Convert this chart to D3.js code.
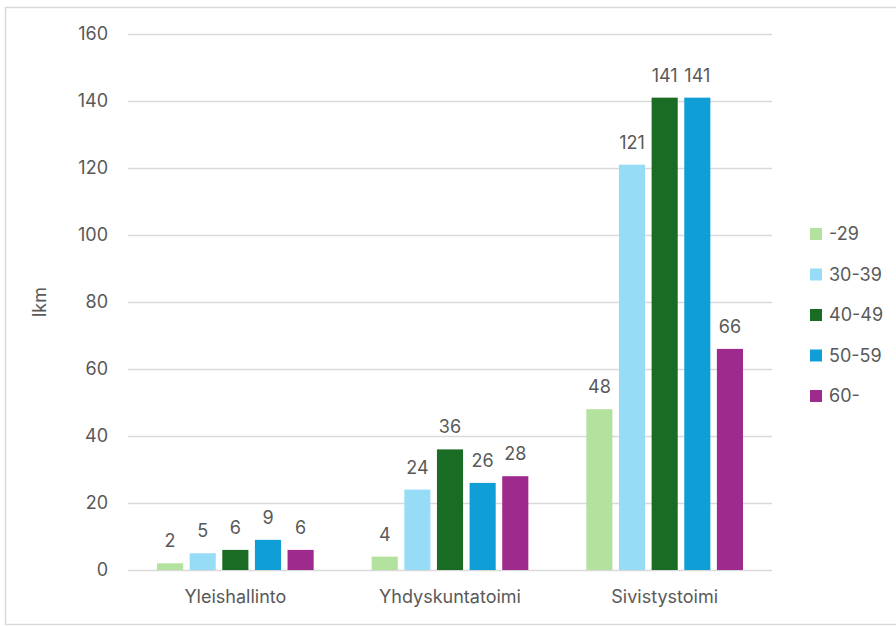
<!DOCTYPE html>
<html><head><meta charset="utf-8">
<script src="https://cdn.jsdelivr.net/npm/d3@7"></script>
<style>body{margin:0;background:#fff}svg{display:block}</style>
</head><body>
<script>
const categories = ["Yleishallinto", "Yhdyskuntatoimi", "Sivistystoimi"];
const seriesNames = ["-29", "30-39", "40-49", "50-59", "60-"];
const s_29 = [2, 4, 48];
const s30_39 = [5, 24, 121];
const s40_49 = [6, 36, 141];
const s50_59 = [9, 26, 141];
const s60 = [6, 28, 66];
const seriesValues = [s_29, s30_39, s40_49, s50_59, s60];
const yTicks = [0, 20, 40, 60, 80, 100, 120, 140, 160];
const colors = ["#b3e29e", "#97dcf6", "#1a6b24", "#109ed6", "#9e2a8e"];

const W = 896, H = 626;
const font = "Inter, sans-serif";
const fs = "18px";
const txt = "#595959";
const svg = d3.select("body").append("svg").attr("width", W).attr("height", H);
svg.append("rect").attr("x", 5.5).attr("y", 7.5).attr("width", 900).attr("height", 617)
  .attr("fill", "#fff").attr("stroke", "#d9d9d9").attr("stroke-width", 1.5);

const pL = 128, pR = 772, pT = 34, pB = 570;
const x = d3.scaleBand().domain(categories).range([pL, pR]).paddingInner(0).paddingOuter(0);
const y = d3.scaleLinear().domain([0, 160]).range([pB, pT]);
const xs = d3.scaleBand().domain(seriesNames).range([29, x.bandwidth() - 29]).paddingInner(0.2).paddingOuter(0);

// gridlines
const yAxis = d3.axisLeft(y).tickValues(yTicks).tickSize(-(pR - pL)).tickFormat(d3.format("d")).tickPadding(20);
const ga = svg.append("g").attr("transform", `translate(${pL},0)`).call(yAxis);
ga.select(".domain").remove();
ga.selectAll(".tick line").attr("stroke", "#d9d9d9").attr("stroke-width", 1.5);
ga.selectAll(".tick text").attr("fill", txt).style("font-family", font).style("font-size", fs);

// bars
const groups = svg.append("g").selectAll("g").data(categories).join("g")
  .attr("transform", d => `translate(${x(d)},0)`);
seriesNames.forEach((s, si) => {
  categories.forEach((c, ci) => {
    const v = seriesValues[si][ci];
    const g = groups.filter(d => d === c);
    g.append("rect").attr("x", xs(s)).attr("y", y(v)).attr("width", xs.bandwidth())
      .attr("height", y(0) - y(v)).attr("fill", colors[si]);
    g.append("text").attr("x", xs(s) + xs.bandwidth() / 2).attr("y", y(v) - 16)
      .attr("text-anchor", "middle").attr("fill", txt).style("font-family", font).style("font-size", fs)
      .text(v);
  });
});

// x axis labels
const xAxis = d3.axisBottom(x).tickSize(0).tickPadding(20);
const gx = svg.append("g").attr("transform", `translate(0,${pB})`).call(xAxis);
gx.select(".domain").remove();
gx.selectAll(".tick text").attr("fill", txt).style("font-family", font).style("font-size", fs);

// y title
svg.append("text").attr("transform", `translate(46,${(pT + pB) / 2}) rotate(-90)`)
  .attr("text-anchor", "middle").attr("fill", txt).style("font-family", font).style("font-size", fs).text("lkm");

// legend
const lg = svg.append("g").selectAll("g").data(seriesNames).join("g")
  .attr("transform", (d, i) => `translate(810,${234 + i * 40.5})`);
lg.append("rect").attr("x", 0).attr("y", -6).attr("width", 12).attr("height", 12).attr("fill", (d, i) => colors[i]);
lg.append("text").attr("x", 19).attr("y", 0).attr("dy", "0.35em").attr("fill", txt)
  .style("font-family", font).style("font-size", fs).text(d => d);
</script>
</body></html>
